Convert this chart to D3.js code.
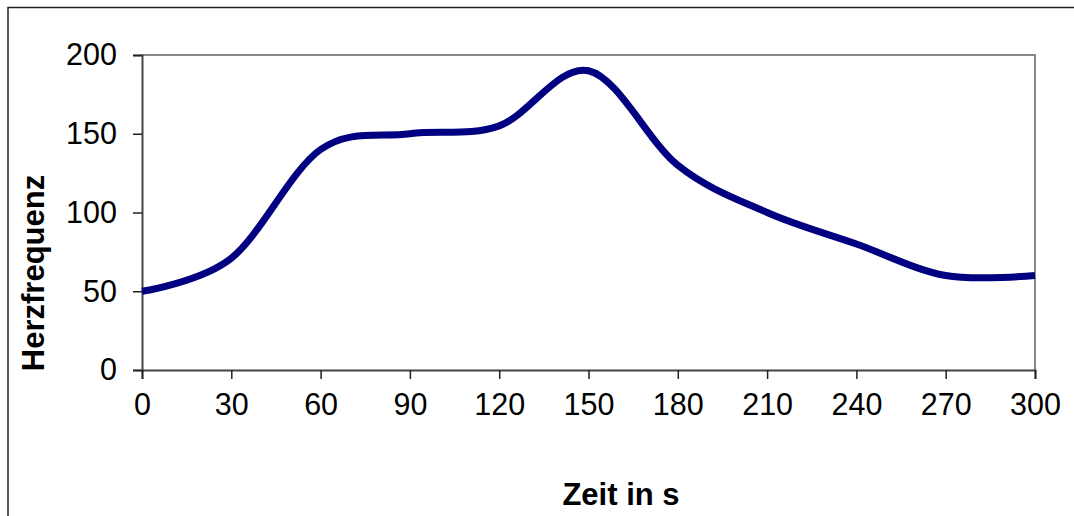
<!DOCTYPE html>
<html>
<head>
<meta charset="utf-8">
<script src="https://d3js.org/d3.v7.min.js"></script>
<style>
  body { margin: 0; background: #fff; }
  svg { display: block; font-family: "Liberation Sans", Arial, sans-serif; }
</style>
</head>
<body>
<svg></svg>
<script>
// data
const zeit = [0, 30, 60, 90, 120, 150, 180, 210, 240, 270, 300];
const herzfrequenz = [50, 71, 140, 150, 155, 190, 130, 100, 80, 60, 60];
const xTicks = [0, 30, 60, 90, 120, 150, 180, 210, 240, 270, 300];
const yTicks = [0, 50, 100, 150, 200];

let width = 1074, height = 516;
let margin = { top: 55, bottom: 146, left: 142, right: 39 };

let svg = d3.select('svg')
    .attr('width', width)
    .attr('height', height);

// outer chart border
svg.append('rect')
    .attr('x', 8).attr('y', 7.5)
    .attr('width', width + 20).attr('height', height + 20)
    .attr('fill', 'none')
    .attr('stroke', '#222')
    .attr('stroke-width', 1.5);

let xScale = d3.scaleLinear()
    .domain([0, 300])
    .range([margin.left, width - margin.right]);

let yScale = d3.scaleLinear()
    .domain([0, 200])
    .range([height - margin.bottom, margin.top]);

// plot area frame (top & right in grey)
svg.append('path')
    .attr('d', `M${xScale(0)},${yScale(200)}H${xScale(300)}V${yScale(0)}`)
    .attr('fill', 'none')
    .attr('stroke', '#888')
    .attr('stroke-width', 2);

let yAxis = svg.append('g')
    .attr('transform', `translate(${margin.left}, 0)`)
    .call(d3.axisLeft(yScale).tickValues(yTicks).tickSize(9).tickPadding(16));

let xAxis = svg.append('g')
    .attr('transform', `translate(0, ${height - margin.bottom})`)
    .call(d3.axisBottom(xScale).tickValues(xTicks).tickSize(9).tickPadding(14));

[yAxis, xAxis].forEach(ax => {
    ax.select('.domain').attr('stroke', '#444').attr('stroke-width', 2);
    ax.selectAll('.tick line').attr('stroke', '#222').attr('stroke-width', 1.5);
    ax.selectAll('.tick text')
        .attr('fill', '#000')
        .style('font-size', '30.5px')
        .style('font-family', '"Liberation Sans", Arial, sans-serif');
});
xAxis.selectAll('.tick text').attr('dy', '0.71em');

// curve
let line = d3.line()
    .x((d, i) => xScale(zeit[i]))
    .y(d => yScale(d))
    .curve(d3.curveCardinal.tension(0));

svg.append('path')
    .datum(herzfrequenz)
    .attr('d', line)
    .attr('fill', 'none')
    .attr('stroke', '#000080')
    .attr('stroke-width', 7)
    .attr('stroke-linejoin', 'round');

// axis titles
svg.append('text')
    .attr('x', 621)
    .attr('y', 505)
    .attr('text-anchor', 'middle')
    .style('font-size', '31px')
    .style('font-weight', 'bold')
    .text('Zeit in s');

svg.append('text')
    .attr('transform', 'translate(44, 273) rotate(-90)')
    .attr('text-anchor', 'middle')
    .style('font-size', '31px')
    .style('font-weight', 'bold')
    .text('Herzfrequenz');
</script>
</body>
</html>
